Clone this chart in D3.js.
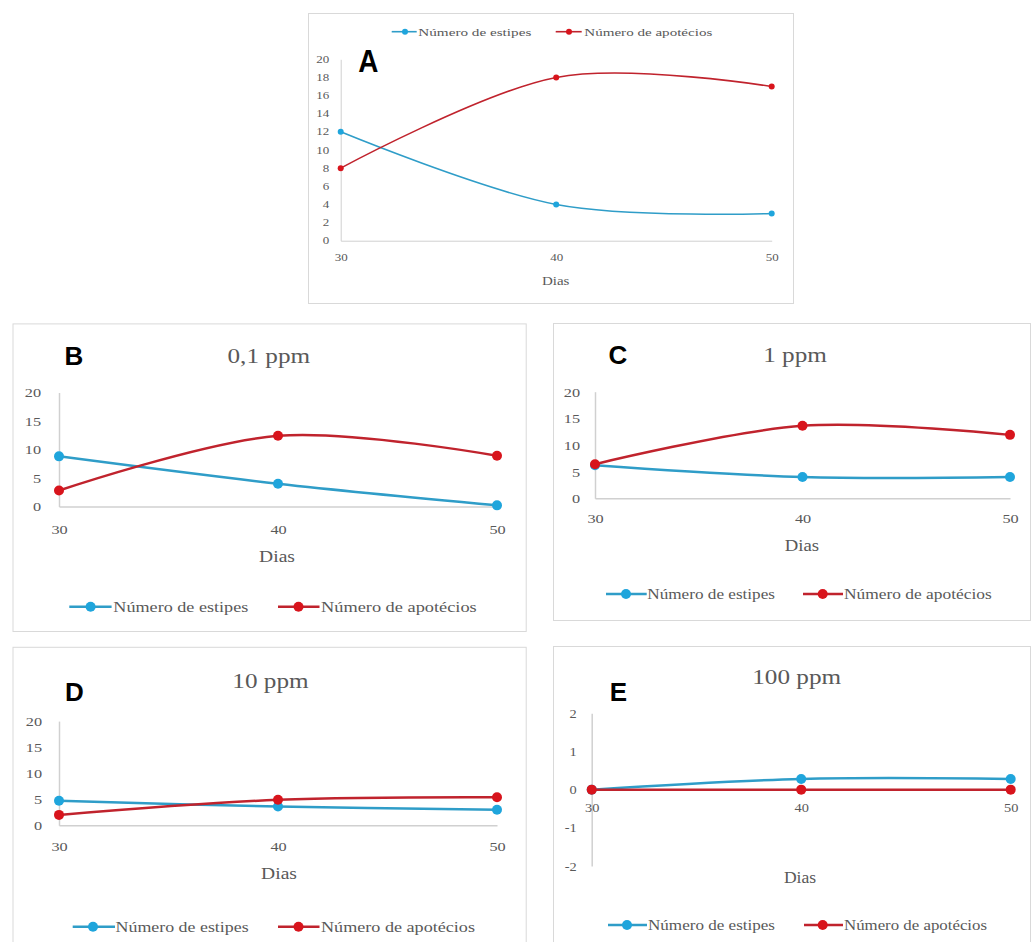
<!DOCTYPE html>
<html>
<head>
<meta charset="utf-8">
<script src="https://cdn.jsdelivr.net/npm/d3@7"></script>
<style>
  html, body { margin: 0; padding: 0; background: #ffffff; }
  svg { display: block; }
</style>
</head>
<body>
<svg id="fig" width="1033" height="942"></svg>
<script>
// Days of observation (x axis)
const dias = [30, 40, 50];

// Series names
const serieNames = ["Número de estipes", "Número de apotécios"];

// Panel A – control
const estipesA = [12, 4, 3];
const apoteciosA = [8, 18, 17];

// Panel B – 0,1 ppm
const estipesB = [8.8, 4.0, 0.2];
const apoteciosB = [2.8, 12.4, 8.9];

// Panel C – 1 ppm
const estipesC = [6.2, 4.0, 4.0];
const apoteciosC = [6.4, 13.6, 11.9];

// Panel D – 10 ppm
const estipesD = [4.7, 3.6, 3.0];
const apoteciosD = [2.0, 4.9, 5.4];

// Panel E – 100 ppm
const estipesE = [0, 0.28, 0.28];
const apoteciosE = [0, 0, 0];

// Tick values
const yTicksA = [0, 2, 4, 6, 8, 10, 12, 14, 16, 18, 20];
const yTicks = [0, 5, 10, 15, 20];
const yTicksE = [-2, -1, 0, 1, 2];

// Panel titles and letters
const titles = ["", "0,1 ppm", "1 ppm", "10 ppm", "100 ppm"];
const letters = ["A", "B", "C", "D", "E"];
const axisTitle = "Dias";

const svg = d3.select("#fig");
const SERIF = "Liberation Serif";
const SANS = "Liberation Sans";
const GRAY_TEXT = "#595959";
const GRAY_AXIS = "#d0d0d0";
const BLUE_LINE = "#2f9dc8", BLUE_DOT = "#1fa5dc";
const RED_LINE = "#c0232d", RED_DOT = "#d8141c";

function stext(g, str, x, y, o) {
  const t = g.append("text")
    .attr("transform", `translate(${x},${y}) scale(${o.sx || 1},1)`)
    .attr("text-anchor", o.anchor || "middle")
    .attr("dominant-baseline", "central")
    .style("font-family", o.family || SERIF)
    .style("font-size", o.fs + "px")
    .style("font-weight", o.weight || "normal")
    .attr("fill", o.fill || GRAY_TEXT)
    .text(str);
  if (o.len) t.attr("textLength", o.len).attr("lengthAdjust", "spacingAndGlyphs");
  return t;
}

function panel(o) {
  const g = svg.append("g");
  const [fx0, fy0, fx1, fy1] = o.frame;
  g.append("rect")
    .attr("x", fx0 + 0.5).attr("y", fy0 + 0.5)
    .attr("width", fx1 - fx0).attr("height", fy1 - fy0)
    .attr("fill", "#ffffff").attr("stroke", "#d9d9d9").attr("stroke-width", 1);

  const x = d3.scaleLinear().domain([30, 50]).range([o.x0, o.x1]);
  const y = d3.scaleLinear().domain(o.domain).range([o.yBottom, o.yTop]);

  // vertical axis
  const ya = d3.axisLeft(y).tickValues(o.ticks).tickSize(0).tickSizeOuter(0)
    .tickPadding(o.yPad).tickFormat(d => String(d));
  g.append("g").attr("transform", `translate(${o.x0},0)`).call(ya)
    .call(s => s.select(".domain").attr("stroke", GRAY_AXIS).attr("stroke-width", o.axisW))
    .call(s => s.selectAll("text")
      .attr("x", -o.yPad / o.tickSx).attr("dy", null)
      .attr("transform", `scale(${o.tickSx},1)`)
      .attr("dominant-baseline", "central")
      .style("font-family", SERIF).style("font-size", o.tickFs + "px").attr("fill", GRAY_TEXT));

  // horizontal axis at zero
  const xa = d3.axisBottom(x).tickValues(dias).tickSize(0).tickSizeOuter(0).tickFormat(d => String(d));
  g.append("g").attr("transform", `translate(0,${y(0)})`).call(xa)
    .call(s => s.select(".domain").attr("stroke", GRAY_AXIS).attr("stroke-width", o.axisW))
    .call(s => s.selectAll("text")
      .attr("y", o.xPad).attr("dy", null)
      .attr("transform", `scale(${o.tickSx},1)`)
      .attr("dominant-baseline", "central")
      .style("font-family", SERIF).style("font-size", o.tickFs + "px").attr("fill", GRAY_TEXT));
  g.selectAll(".tick line").remove();

  // series
  const line = d3.line().x((d, i) => x(dias[i])).y(d => y(d)).curve(d3.curveCardinal.tension(0));
  const series = [
    { vals: o.estipes, lc: BLUE_LINE, dc: BLUE_DOT },
    { vals: o.apotecios, lc: RED_LINE, dc: RED_DOT }
  ];
  series.forEach(s => {
    g.append("path").datum(s.vals).attr("d", line)
      .attr("fill", "none").attr("stroke", s.lc).attr("stroke-width", o.lineW)
      .attr("stroke-linejoin", "round");
    g.selectAll(null).data(s.vals).enter().append("circle")
      .attr("cx", (d, i) => x(dias[i])).attr("cy", d => y(d)).attr("r", o.r)
      .attr("fill", s.dc);
  });

  // legend
  o.legend.items.forEach((it, i) => {
    const s = series[i];
    g.append("line").attr("x1", it.l0).attr("x2", it.l1)
      .attr("y1", o.legend.y).attr("y2", o.legend.y)
      .attr("stroke", s.lc).attr("stroke-width", o.lineW);
    g.append("circle").attr("cx", it.m).attr("cy", o.legend.y).attr("r", o.r).attr("fill", s.dc);
    stext(g, serieNames[i], it.t, o.legend.y, { fs: o.legend.fs, anchor: "start", len: it.w });
  });

  // axis title
  stext(g, axisTitle, o.dias.x, o.dias.y, { fs: o.dias.fs, sx: o.dias.sx });

  // panel title
  if (o.title) stext(g, o.title.text, o.title.x, o.title.y, { fs: o.title.fs, sx: o.title.sx });

  // panel letter
  stext(g, o.letter.text, o.letter.x, o.letter.y,
    { fs: o.letter.fs, sx: o.letter.sx, family: SANS, weight: "bold", fill: "#000000" });
}

// A
panel({
  frame: [308, 13, 793, 303],
  x0: 340.7, x1: 771.7, yBottom: 240.7, yTop: 59.3, domain: [0, 20], ticks: yTicksA,
  yPad: 11.5, xPad: 17.6, tickFs: 10, tickSx: 1.3, axisW: 1, lineW: 1.6, r: 3,
  estipes: estipesA, apotecios: apoteciosA,
  letter: { text: letters[0], x: 368.3, y: 61, fs: 31, sx: 0.9 },
  title: null,
  dias: { x: 555.7, y: 280.7, fs: 12, sx: 1.25 },
  legend: { y: 31.7, fs: 11, items: [
    { l0: 391.7, l1: 416.7, m: 405, t: 418.3, w: 113 },
    { l0: 555.7, l1: 581.7, m: 569, t: 584.3, w: 128 } ] }
});

// B
panel({
  frame: [12.5, 323.4, 525.7, 631],
  x0: 59, x1: 497, yBottom: 506.5, yTop: 392.5, domain: [0, 20], ticks: yTicks,
  yPad: 18, xPad: 22.6, tickFs: 13, tickSx: 1.25, axisW: 1.5, lineW: 2.5, r: 5,
  estipes: estipesB, apotecios: apoteciosB,
  letter: { text: letters[1], x: 74, y: 355.5, fs: 26, sx: 1 },
  title: { text: titles[1], x: 268.8, y: 355.5, fs: 21, sx: 1.2 },
  dias: { x: 277, y: 556.6, fs: 17, sx: 1.15 },
  legend: { y: 606.7, fs: 15, items: [
    { l0: 69.3, l1: 111.6, m: 90.6, t: 113.3, w: 135 },
    { l0: 278, l1: 319.5, m: 298.5, t: 321, w: 155.7 } ] }
});

// C
panel({
  frame: [553, 323, 1030, 620],
  x0: 595, x1: 1010, yBottom: 498.3, yTop: 391.7, domain: [0, 20], ticks: yTicks,
  yPad: 15, xPad: 20.7, tickFs: 13, tickSx: 1.25, axisW: 1.5, lineW: 2.5, r: 5,
  estipes: estipesC, apotecios: apoteciosC,
  letter: { text: letters[2], x: 618, y: 355, fs: 26, sx: 1 },
  title: { text: titles[2], x: 795, y: 354.7, fs: 21, sx: 1.2 },
  dias: { x: 802, y: 545, fs: 17, sx: 1.1 },
  legend: { y: 594, fs: 15, items: [
    { l0: 606, l1: 646.7, m: 626, t: 647.3, w: 127.7 },
    { l0: 803, l1: 843, m: 822.7, t: 844, w: 147.7 } ] }
});

// D
panel({
  frame: [12.5, 646.8, 525.7, 960],
  x0: 59, x1: 497, yBottom: 825.3, yTop: 721.1, domain: [0, 20], ticks: yTicks,
  yPad: 17, xPad: 21.6, tickFs: 13, tickSx: 1.25, axisW: 1.5, lineW: 2.5, r: 5,
  estipes: estipesD, apotecios: apoteciosD,
  letter: { text: letters[3], x: 74.4, y: 692.4, fs: 26, sx: 1 },
  title: { text: titles[3], x: 270.5, y: 680.6, fs: 21, sx: 1.2 },
  dias: { x: 279, y: 873.3, fs: 17, sx: 1.15 },
  legend: { y: 926.7, fs: 15, items: [
    { l0: 72.7, l1: 115, m: 93, t: 115.6, w: 133 },
    { l0: 278, l1: 319.5, m: 298.5, t: 321, w: 154 } ] }
});

// E
panel({
  frame: [553, 646, 1030, 960],
  x0: 591.7, x1: 1010.7, yBottom: 866, yTop: 713.3, domain: [-2, 2], ticks: yTicksE,
  yPad: 15, xPad: 18.7, tickFs: 12, tickSx: 1.2, axisW: 1.5, lineW: 2.5, r: 5,
  estipes: estipesE, apotecios: apoteciosE,
  letter: { text: letters[4], x: 618.3, y: 691.7, fs: 26, sx: 1 },
  title: { text: titles[4], x: 796.7, y: 676.7, fs: 21, sx: 1.2 },
  dias: { x: 800, y: 878, fs: 16, sx: 1.1 },
  legend: { y: 925, fs: 15, items: [
    { l0: 608, l1: 647, m: 627, t: 648, w: 127 },
    { l0: 804, l1: 843, m: 822.7, t: 844, w: 143 } ] }
});
</script>
</body>
</html>
